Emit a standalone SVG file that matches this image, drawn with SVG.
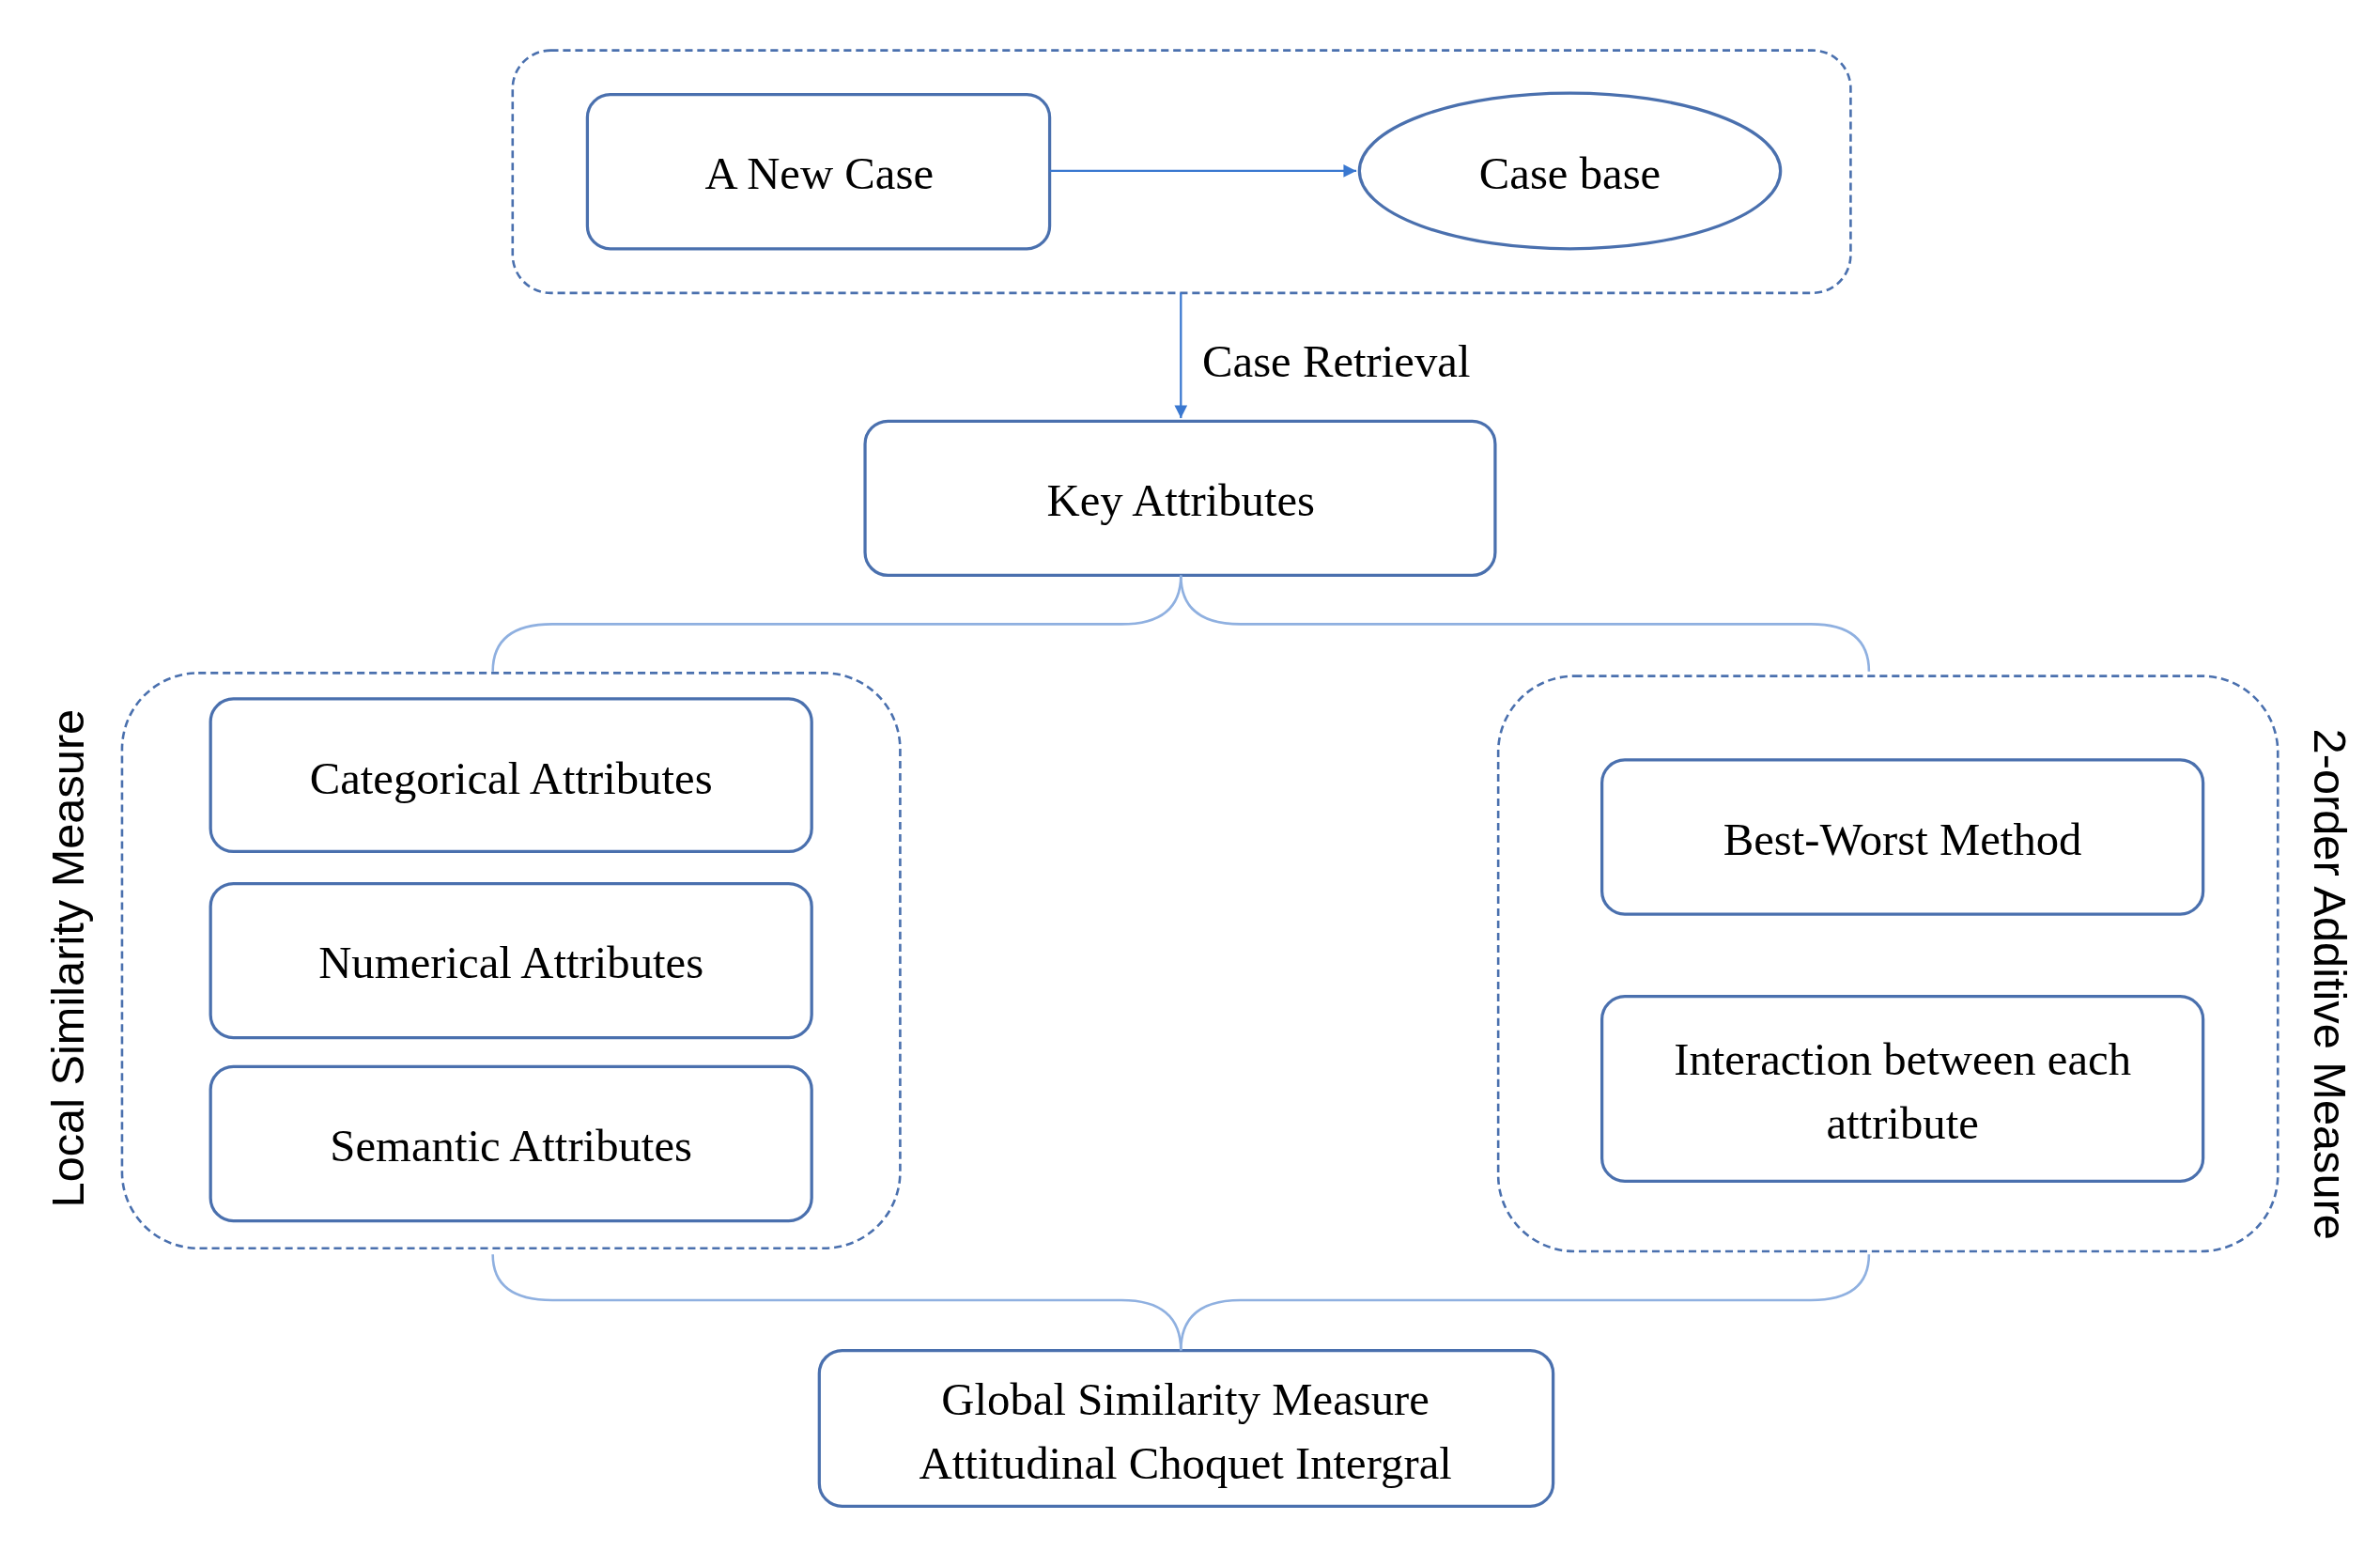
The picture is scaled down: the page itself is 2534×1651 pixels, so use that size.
<svg xmlns="http://www.w3.org/2000/svg" width="2534" height="1651" viewBox="0 0 2534 1651">
<defs>
<style>
.box{fill:#fff;stroke:#4a70ae;stroke-width:2}
.dash{fill:none;stroke:#4a70ae;stroke-width:1.6;stroke-dasharray:5 3}
.t{font-family:"Liberation Serif",serif;font-size:30px;fill:#000;text-anchor:middle}
.s{font-family:"Liberation Sans",sans-serif;font-size:30px;fill:#000;text-anchor:middle}
.br{fill:none;stroke:#8fb0e0;stroke-width:1.6}
.ar{stroke:#3a78d0;stroke-width:1.4;fill:none}
</style>
<marker id="ah" viewBox="0 0 10 10" refX="10" refY="5" markerWidth="6" markerHeight="6" orient="auto"><path d="M0,0L10,5L0,10z" fill="#3a78d0"/></marker>
</defs>
<rect width="2534" height="1651" fill="#fff"/>
<g transform="scale(1.6244)">
<g id="top-group"><rect class="dash" x="336" y="33" width="877" height="159" rx="25"/></g>
<g id="new-case"><rect class="box" x="385" y="62" width="303" height="101" rx="15"/><text class="t" x="537" y="124">A New Case</text></g>
<g id="case-base"><ellipse class="box" cx="1029" cy="112" rx="138" ry="51"/><text class="t" x="1029" y="124">Case base</text></g>
<g id="key-attributes"><rect class="box" x="567" y="276" width="413" height="101" rx="15"/><text class="t" x="774" y="338">Key Attributes</text></g>
<g id="local-group"><rect class="dash" x="80" y="441" width="510" height="377" rx="50"/>
<text class="s" transform="translate(55,628) rotate(-90)">Local  Similarity Measure</text></g>
<g id="categorical"><rect class="box" x="138" y="458" width="394" height="100" rx="15"/><text class="t" x="335" y="520">Categorical Attributes</text></g>
<g id="numerical"><rect class="box" x="138" y="579" width="394" height="101" rx="15"/><text class="t" x="335" y="641">Numerical Attributes</text></g>
<g id="semantic"><rect class="box" x="138" y="699" width="394" height="101" rx="15"/><text class="t" x="335" y="761">Semantic Attributes</text></g>
<g id="additive-group"><rect class="dash" x="982" y="443" width="511" height="377" rx="50"/>
<text class="s" transform="translate(1517,645) rotate(90)">2-order Additive  Measure</text></g>
<g id="best-worst"><rect class="box" x="1050" y="498" width="394" height="101" rx="15"/><text class="t" x="1247" y="560">Best-Worst Method</text></g>
<g id="interaction"><rect class="box" x="1050" y="653" width="394" height="121" rx="15"/><text class="t" x="1247" y="704">Interaction between each</text><text class="t" x="1247" y="746">attribute</text></g>
<g id="global"><rect class="box" x="537" y="885" width="481" height="102" rx="15"/><text class="t" x="777" y="927">Global Similarity Measure</text><text class="t" x="777" y="969">Attitudinal Choquet Intergral</text></g>
<g id="connectors">
<line class="ar" x1="688" y1="112" x2="889" y2="112" marker-end="url(#ah)" stroke="#8fb0e0"/>
<line class="ar" x1="774" y1="192" x2="774" y2="274" marker-end="url(#ah)"/>
<text class="t" x="788" y="247" text-anchor="start" style="text-anchor:start">Case Retrieval</text>
<path class="br" d="M774,377 Q774,409 735,409 L362,409 Q323,409 323,440"/>
<path class="br" d="M774,377 Q774,409 813,409 L1187,409 Q1225,409 1225,440"/>
<path class="br" d="M323,822 Q323,852 362,852 L735,852 Q774,852 774,885"/>
<path class="br" d="M1225,822 Q1225,852 1187,852 L813,852 Q774,852 774,885"/>
</g>
</g>
</svg>
